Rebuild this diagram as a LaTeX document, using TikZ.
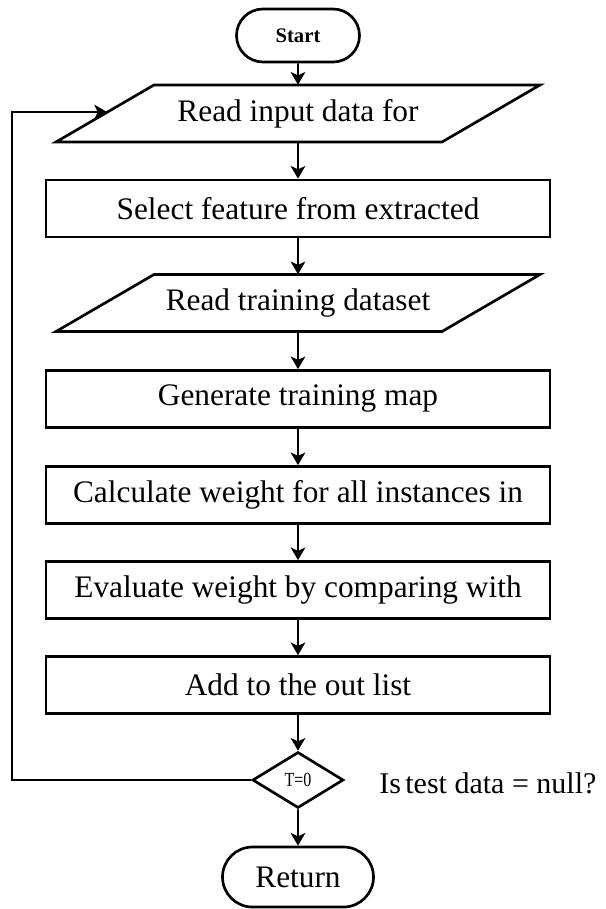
\documentclass[tikz,border=0pt]{standalone}
\usepackage{fontspec}
\setmainfont{Liberation Serif}
\usetikzlibrary{shapes.misc,shapes.geometric,arrows.meta,calc}
\begin{document}
\begin{tikzpicture}[x=0.75pt,y=-0.75pt,
  every node/.style={inner sep=0pt, font=\fontsize{23.5}{27}\selectfont},
  shapeline/.style={draw, line width=2pt, line join=miter},
  terminal/.style={shapeline, rounded rectangle},
  stepbox/.style={shapeline, rectangle, minimum width=378pt, minimum height=42.75pt},
  iobox/.style={rectangle, minimum width=289.5pt, minimum height=42.75pt},
  decision/.style={shapeline, diamond, minimum width=68.25pt, minimum height=42pt},
  conn/.style={line width=1.3pt, -{Stealth[length=9.5pt, width=11pt, inset=2.5pt]}}
]
\useasboundingbox (0,0) rectangle (606,909);

% terminals, steps and decision
\node[terminal, minimum width=92.25pt, minimum height=39.75pt,
      font=\fontsize{15.5}{18}\selectfont\bfseries] (start) at (298,35.5) {Start};
\node[iobox] (p1) at (298,113.5) {Read input data for};
\node[stepbox] (r1) at (298,208.5) {Select feature from extracted};
\node[iobox] (p2) at (298,303) {Read training dataset};
\node[stepbox] (r2) at (298,399) {Generate training map};
\node[stepbox] (r3) at (298,495) {Calculate weight for all instances in};
\node[stepbox] (r4) at (298,590) {Evaluate weight by comparing with};
\node[stepbox] (r5) at (298,685) {Add to the out list};
\node[decision, font=\fontsize{15}{18}\selectfont] (dia) at (298,780) {\scalebox{0.8}[1]{T=0}};
\node[terminal, minimum width=113.25pt, minimum height=45pt] (ret) at (298,877) {Return};
\node[anchor=west, font=\fontsize{22.5}{26}\selectfont] (cond) at (379,783) {Is\hspace{0.15em}test data = null?};

% parallelogram outlines of the input nodes
\draw[shapeline] ($(p1.center)+(-144,-28.5)$) -- ++(386,0) -- ++(-98,57) -- ++(-386,0) -- cycle;
\draw[shapeline] ($(p2.center)+(-144,-28.5)$) -- ++(386,0) -- ++(-98,57) -- ++(-386,0) -- cycle;

% entry point of the loop on the left side of the first input
\coordinate (fbin) at ($(p1.center)+(-191,-1.5)$);

% connectors
\draw[conn] (start) -- (p1);
\draw[conn] (p1) -- (r1);
\draw[conn] (r1) -- (p2);
\draw[conn] (p2) -- (r2);
\draw[conn] (r2) -- (r3);
\draw[conn] (r3) -- (r4);
\draw[conn] (r4) -- (r5);
\draw[conn] (r5) -- (dia);
\draw[conn] (dia) -- (ret);
\draw[conn] (dia.west) -- ++(-239,0) |- (fbin);
\end{tikzpicture}
\end{document}
